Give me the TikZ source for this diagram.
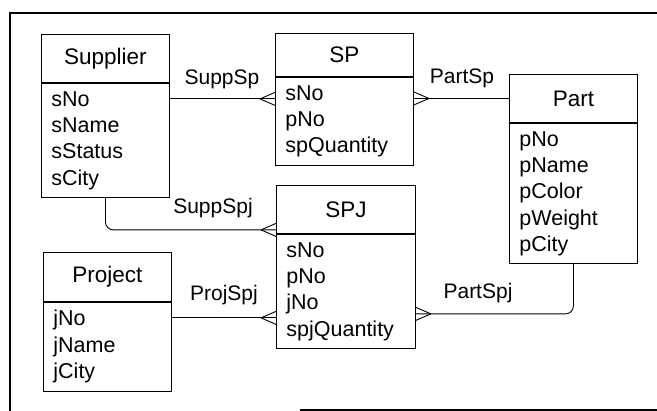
\documentclass[tikz,border=0pt]{standalone}
\usepackage{fontspec}
\setmainfont{Liberation Sans}
\usetikzlibrary{positioning}

\tikzset{
  title/.style={draw,line width=0.9pt,minimum width=#1,minimum height=48pt,
    inner sep=0pt,font=\fontsize{22.5}{26}\selectfont},
  attrs/.style={draw,line width=0.9pt,text width=#1-20pt,inner xsep=10pt,
    inner ysep=8pt,align=left,font=\fontsize{21.5}{26.3}\selectfont},
  link/.style={line width=0.9pt},
  lbl/.style={font=\fontsize{21}{24}\selectfont,inner sep=0pt}
}

\begin{document}
\begin{tikzpicture}[x=1pt,y=-1pt]
  \useasboundingbox (0,0) rectangle (657,411);
  % page frame
  \draw[line width=1.2pt] (657,13) -- (10,13) -- (10,411);
  \draw[line width=1.2pt] (300,410) -- (657,410);

  % entities
  \node[title=128pt,anchor=north west] (supTitle) at (41,34) {Supplier};
  \node[attrs=128pt,below=0pt of supTitle] (supBody) {sNo\\sName\\sStatus\\sCity};

  \node[title=138pt,minimum height=43pt,anchor=north west] (spTitle) at (275,33) {SP};
  \node[attrs=138pt,below=0pt of spTitle] (spBody) {sNo\\pNo\\spQuantity};

  \node[title=128pt,anchor=north west] (partTitle) at (509,74) {Part};
  \node[attrs=128pt,below=0pt of partTitle] (partBody) {pNo\\pName\\pColor\\pWeight\\pCity};

  \node[title=139pt,anchor=north west] (spjTitle) at (276,185) {SPJ};
  \node[attrs=139pt,below=0pt of spjTitle] (spjBody) {sNo\\pNo\\jNo\\spjQuantity};

  \node[title=128pt,minimum height=49pt,anchor=north west] (projTitle) at (43,252) {Project};
  \node[attrs=128pt,below=0pt of projTitle] (projBody) {jNo\\jName\\jCity};

  % relationships
  \coordinate (suppA) at ([yshift=-16pt]supBody.north east);
  \coordinate (suppB) at (suppA -| spBody.west);
  \draw[link] (suppA) -- (suppB);
  \draw[link] ([xshift=-15pt]suppB) -- ++(15,-6.5) ([xshift=-15pt]suppB) -- ++(15,6.5);

  \coordinate (partB) at (partTitle.west -| spBody.east);
  \draw[link] (partTitle.west) -- (partB);
  \draw[link] ([xshift=15pt]partB) -- ++(-15,-6.5) ([xshift=15pt]partB) -- ++(-15,6.5);

  \coordinate (suppjB) at ([yshift=4pt]spjBody.north west);
  \draw[link,rounded corners=8pt] (supBody.south) |- (suppjB);
  \draw[link] ([xshift=-15pt]suppjB) -- ++(15,-6.5) ([xshift=-15pt]suppjB) -- ++(15,6.5);

  \coordinate (projA) at ([yshift=-16pt]projBody.north east);
  \coordinate (projB) at (projA -| spjBody.west);
  \draw[link] (projA) -- (projB);
  \draw[link] ([xshift=-15pt]projB) -- ++(15,-6.5) ([xshift=-15pt]projB) -- ++(15,6.5);

  \coordinate (partjB) at ([yshift=-80pt]spjBody.north east);
  \draw[link,rounded corners=8pt] (partBody.south) |- (partjB);
  \draw[link] ([xshift=15pt]partjB) -- ++(-15,-6.5) ([xshift=15pt]partjB) -- ++(-15,6.5);

  % relationship names
  \node[lbl] (suppSpLbl) at (222,79) {SuppSp};
  \node[lbl] (partSpLbl) at (462,78) {PartSp};
  \node[lbl] (suppSpjLbl) at (213,208) {SuppSpj};
  \node[lbl] (projSpjLbl) at (224,295) {ProjSpj};
  \node[lbl] (partSpjLbl) at (478,293) {PartSpj};
\end{tikzpicture}
\end{document}
